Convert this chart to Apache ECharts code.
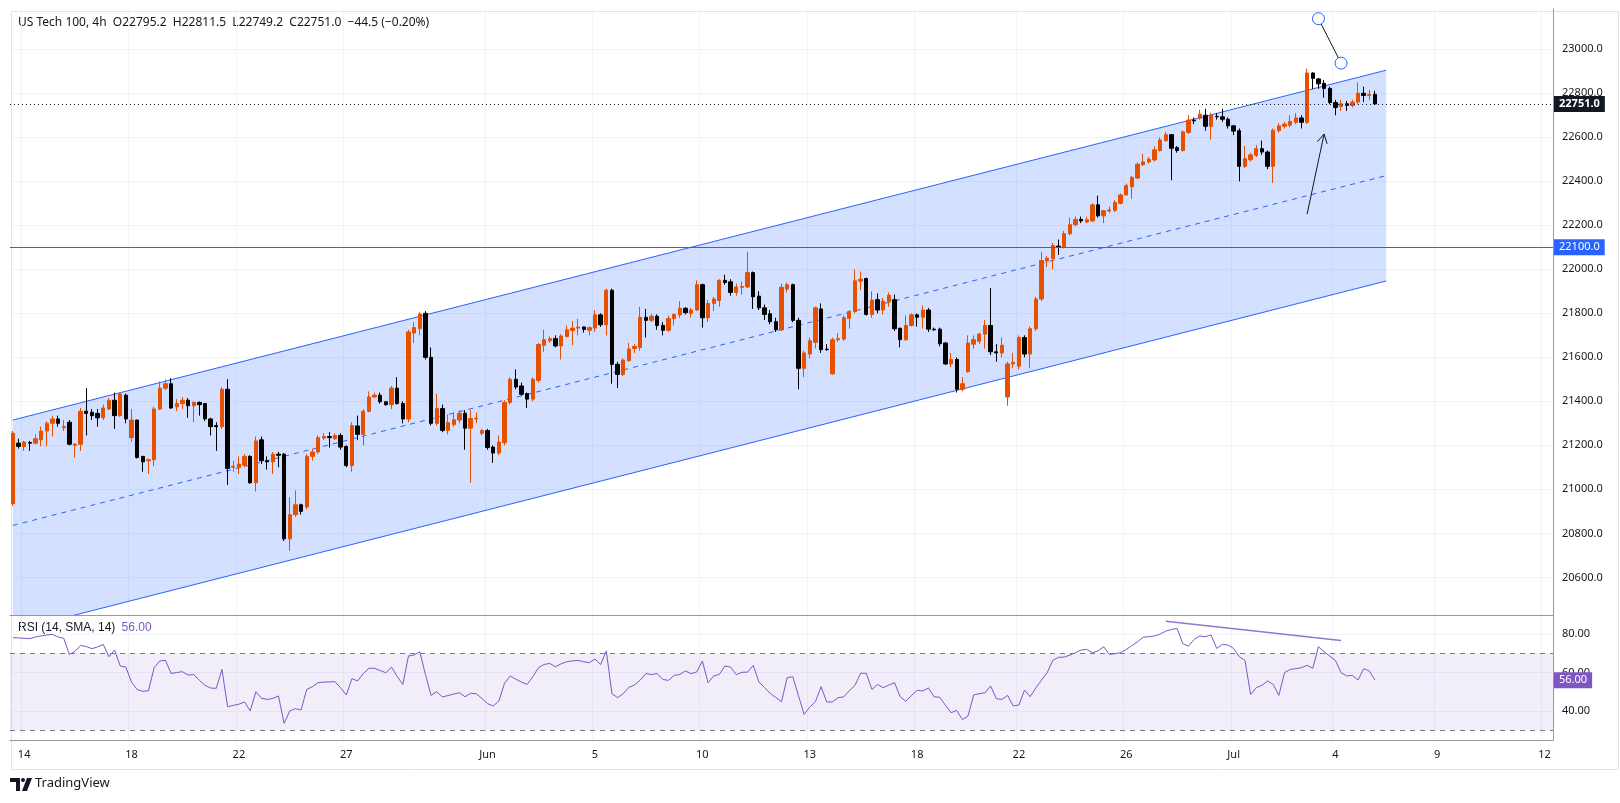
<!DOCTYPE html>
<html>
<head>
<meta charset="utf-8">
<script src="https://cdn.jsdelivr.net/npm/echarts@6/dist/echarts.min.js"></script>
<style>
html,body{margin:0;padding:0;background:#fff;}
#chart{width:1620px;height:803px;}
</style>
</head>
<body>
<div id="chart"></div>
<script>
// 4h candles: [open, close, low, high]
var candles = [
[20935,21255,20925,21265],[21210,21195,21185,21230],[21195,21215,21175,21220],[21213,21210,21175,21220],[21210,21230,21205,21250],
[21225,21265,21195,21285],[21265,21300,21195,21310],[21300,21320,21240,21335],[21320,21300,21285,21335],[21280,21285,21265,21315],
[21305,21205,21200,21315],[21200,21205,21145,21210],[21205,21355,21175,21370],[21355,21345,21245,21460],[21350,21335,21315,21365],
[21345,21325,21285,21365],[21325,21370,21315,21385],[21365,21405,21360,21415],[21405,21335,21275,21440],[21335,21433,21330,21440],
[21428,21320,21300,21435],[21235,21315,21215,21365],[21315,21145,21140,21315],[21150,21125,21080,21150],[21130,21135,21070,21140],
[21135,21365,21105,21375],[21365,21460,21360,21490],[21460,21480,21450,21500],[21480,21370,21365,21505],[21375,21390,21355,21410],
[21390,21405,21365,21420],[21405,21380,21325,21415],[21380,21395,21305,21400],[21395,21385,21335,21400],[21390,21320,21310,21390],
[21320,21285,21245,21325],[21290,21285,21175,21305],[21285,21455,21275,21465],[21455,21095,21020,21500],[21100,21105,21080,21130],
[21100,21115,21070,21150],[21110,21150,21100,21160],[21150,21030,21025,21155],[21030,21220,20990,21240],[21225,21130,21115,21240],
[21130,21125,21090,21150],[21125,21160,21070,21170],[21160,21155,21100,21170],[21160,20775,20765,21165],[20775,20885,20720,20965],
[20885,20930,20875,20995],[20930,20900,20885,20935],[20920,21150,20910,21160],[21150,21170,21130,21185],[21170,21235,21160,21245],
[21233,21240,21225,21255],[21240,21235,21190,21260],[21230,21245,21225,21255],
[21245,21192,21180,21255],[21195,21108,21100,21200],[21108,21290,21080,21305],[21288,21250,21225,21335],[21250,21355,21200,21365],
[21355,21420,21350,21445],[21420,21428,21415,21440],[21428,21398,21390,21440],[21398,21385,21380,21400],[21385,21460,21365,21470],
[21460,21390,21385,21510],[21390,21320,21300,21400],[21320,21715,21305,21725],[21710,21735,21665,21760],[21730,21797,21700,21805],
[21800,21600,21590,21810],[21600,21300,21290,21645],[21300,21367,21290,21435],[21367,21268,21260,21385],[21268,21303,21250,21340],
[21295,21316,21285,21350],[21315,21346,21300,21360],[21346,21278,21180,21360],[21278,21322,21030,21360],[21320,21324,21300,21350],
[21255,21267,21245,21275],[21267,21190,21180,21275],[21192,21165,21120,21200],[21165,21215,21155,21245],[21212,21395,21200,21405],
[21395,21500,21385,21510],[21500,21465,21455,21545],[21470,21432,21425,21485],[21435,21410,21370,21440],[21410,21500,21400,21510],
[21495,21658,21485,21665],[21655,21680,21625,21725],[21675,21685,21665,21695],[21685,21652,21645,21700],[21652,21697,21590,21705],
[21695,21725,21690,21745],[21722,21733,21655,21765],[21733,21738,21700,21775],[21738,21727,21712,21740],[21723,21735,21700,21740],
[21733,21793,21715,21815],[21793,21748,21738,21800],[21748,21905,21700,21912],[21905,21568,21480,21912],[21568,21522,21460,21580],
[21522,21588,21515,21595],[21585,21638,21580,21665],[21640,21650,21620,21660],[21645,21782,21630,21830],[21782,21768,21690,21820],
[21768,21787,21760,21797],[21787,21745,21725,21795],[21745,21723,21700,21760],
[21723,21776,21715,21790],[21776,21795,21745,21800],[21793,21823,21780,21855],[21823,21803,21795,21828],[21800,21815,21780,21825],
[21815,21930,21810,21950],[21930,21780,21735,21935],[21780,21845,21760,21860],[21845,21865,21810,21875],[21858,21950,21830,21955],
[21950,21940,21930,21975],[21943,21895,21880,21955],[21895,21920,21880,21935],[21918,21922,21885,21945],[21920,21985,21915,22080],
[21985,21875,21820,21990],[21878,21825,21815,21900],[21825,21795,21770,21840],[21798,21762,21750,21815],[21762,21725,21715,21780],
[21725,21918,21720,21935],[21910,21930,21895,21940],[21930,21768,21760,21935],[21768,21550,21455,21780],[21550,21620,21510,21630],
[21615,21675,21595,21690],[21668,21825,21640,21830],[21820,21635,21620,21845],[21637,21635,21630,21660],[21525,21680,21520,21690],
[21680,21685,21670,21710],[21683,21780,21675,21790],[21777,21808,21730,21815],[21808,21948,21800,22000],[21946,21955,21905,21990],
[21958,21795,21790,21962],[21795,21860,21780,21900],[21862,21815,21800,21890],[21815,21855,21795,21870],[21852,21882,21830,21895],
[21862,21730,21720,21885],[21732,21680,21645,21735],[21680,21745,21675,21790],[21745,21793,21740,21800],[21793,21782,21740,21800],
[21782,21815,21730,21835],[21815,21728,21715,21825],[21728,21725,21720,21735],[21728,21662,21650,21735],[21665,21570,21565,21670],
[21570,21590,21555,21620],[21590,21455,21440,21600],[21455,21480,21445,21510],[21535,21665,21530,21700],[21660,21680,21640,21700],
[21673,21706,21660,21712],[21705,21745,21640,21770],[21745,21625,21610,21915],[21625,21620,21580,21660],
[21620,21655,21600,21690],[21420,21570,21380,21580],[21570,21578,21550,21620],[21560,21690,21545,21700],[21690,21615,21600,21700],
[21615,21730,21550,21740],[21730,21865,21720,21875],[21865,22040,21855,22080],[22038,22050,22010,22060],[22048,22108,22000,22120],
[22105,22100,22065,22135],[22102,22162,22095,22175],[22162,22203,22155,22235],[22203,22227,22195,22240],[22227,22220,22210,22240],
[22215,22225,22210,22240],[22220,22293,22215,22300],[22293,22243,22235,22335],[22243,22266,22210,22270],[22265,22270,22255,22285],
[22268,22304,22260,22315],[22300,22338,22295,22345],[22338,22380,22335,22390],[22375,22418,22320,22425],[22415,22478,22410,22485],
[22475,22488,22470,22525],[22488,22500,22480,22510],[22497,22543,22490,22560],[22540,22588,22535,22600],[22585,22612,22580,22625],
[22612,22550,22405,22615],[22553,22540,22530,22560],[22540,22625,22535,22630],[22622,22678,22615,22700],[22678,22675,22660,22690],
[22687,22705,22680,22725],[22700,22650,22630,22730],[22650,22700,22590,22712],[22695,22693,22680,22710],[22693,22682,22670,22730],
[22682,22652,22640,22690],[22652,22628,22610,22655],[22630,22468,22400,22640],[22468,22503,22460,22560],[22498,22520,22490,22530],
[22518,22548,22510,22565],[22548,22533,22520,22585],[22533,22468,22455,22540],[22468,22632,22392,22640],[22630,22652,22620,22665],
[22650,22660,22640,22670],[22655,22672,22645,22700],[22668,22688,22660,22710],[22688,22668,22640,22700],[22668,22892,22660,22912],
[22892,22868,22820,22895],[22865,22843,22820,22870],[22845,22822,22780,22860],[22822,22758,22750,22830],[22758,22735,22700,22770],
[22740,22752,22720,22770],[22752,22745,22720,22765],[22745,22760,22735,22770],[22760,22800,22750,22850],[22800,22790,22760,22830],
[22790,22795,22770,22815],[22795.2,22751.0,22749.2,22811.5]
];

var rsi = [
78.1,78,77.8,77.6,78.5,79,79.5,79.8,78.5,77.8,
69.4,71,74.1,73.5,72.4,73.3,74.6,68.2,71.7,63.4,
62.8,55,51.2,50.2,50.5,62.5,66,66.3,59.5,60,
60.4,58.7,58.9,56,53.3,51.9,51.8,61.6,42.2,42.9,
43.5,44.7,40,50,46.6,46,46.5,47.8,33.5,40,
41.2,40.5,51.2,52.6,54.7,55,55.1,55.2,52,48.3,
56.8,55.6,59.4,62.2,62.2,61,59.9,62.8,58,53.8,
68.6,69.1,70.8,59,48.1,50,47.3,48,48.8,49.5,
47.4,49.2,49,46.5,43.8,42.6,45.2,54.4,58.2,56.5,
55,53.8,57.8,62.5,64.2,64.7,63,64.5,65.6,66,
66.3,65.6,65.1,67,64.2,71.2,49,46.9,49,52.3,
53.5,56,59.5,58.9,59.5,56.4,55.9,58.5,59,60.8,
59.4,60.3,66,54.7,58.2,59,63.4,62.8,58.9,60.1,
60.2,63.7,55.1,52.1,49.2,47,44.8,57.3,57.8,48,
38.2,42,44.8,52.6,44.7,44.7,46.9,47.3,50.5,53.3,
59.6,59.6,51.2,53.8,52.1,53.5,54.7,47.4,45,48.1,
50.7,50.4,52,47.4,47.1,43,39.1,40.3,35.5,37.4,
48.3,49,49.5,53,46.4,46,48.1,42.6,43.1,50.9,
47.4,52,56,59.9,66.3,67.9,68,69,70.3,71.7,
72,70.3,71.2,73.4,69.4,69.8,70.3,72,74,76,
78.4,78.6,79,80,81.5,82.4,82.9,75,73.7,77.2,
79,78.6,79.5,72.5,74.6,74.3,72.5,68.2,66.3,48.6,
52.1,53.3,55.6,53.8,48.1,59.9,61.6,62,62.5,63.7,
62.2,73.4,70.8,68.5,66.3,59.9,58.2,58.5,56.1,62,
60.8,56.0
];

var dateTicks = [[2,'14'],[21,'18'],[40,'22'],[59,'27'],[84,'Jun'],[103,'5'],[122,'10'],[141,'13'],
  [160,'18'],[178,'22'],[197,'26'],[216,'Jul'],[234,'4'],[252,'9'],[271,'12']];
var priceTicks = [20600,20800,21000,21200,21400,21600,21800,22000,22200,22400,22600,22800,23000];
var rsiTicks = [40,60,80];

// channel endpoints [start, end] in price, at bar index -0.5 and 242.5
var channelIdx = [-0.5, 242.5];
var channelUpper = [21315, 22905];
var channelLower = [20357, 21947];
var channelMid = [20836, 22426];
// drawings on the price pane
var circles = [[230.5, 23139], [235.4, 22937]];
var arrow = [[229.4, 22251], [231.7, 22615]];
var rsiDiv = [[204, 86.7], [235, 76.7]];

var lastPrice = 22751.0, levelLine = 22100.0, lastRsi = 56.00;

var nCat = 273;
var categories = [];
for (var i = 0; i < nCat; i++) categories.push('');
dateTicks.forEach(function (d) { categories[d[0]] = d[1]; });

var UP = '#e65100', DOWN = '#000000', BLUE = '#2962ff', PURPLE = '#7e57c2';
var showTick = function (idx, val) { return val !== ''; };
var gridLine = function (v) {
  return { yAxis: v, lineStyle: { color: '#f0f3fa', type: 'solid', width: 1 }, label: { show: false } };
};
var tag = function (v, txt, bg) {
  return { show: true, position: 'end', distance: 1, formatter: txt, color: '#fff',
    backgroundColor: bg, padding: [3, 5, 2, 5], fontSize: 11 };
};

var chart = echarts.init(document.getElementById('chart'));

var option = {
  animation: false,
  backgroundColor: '#ffffff',
  textStyle: { fontFamily: 'Noto Sans, Liberation Sans, sans-serif' },
  grid: [
    { left: 10, right: 67, top: 9, height: 606 },
    { left: 10, right: 67, top: 615, height: 125 }
  ],
  xAxis: [
    { type: 'category', gridIndex: 0, data: categories, boundaryGap: true,
      axisLine: { show: true, lineStyle: { color: '#9598a1' } }, axisTick: { show: false }, axisLabel: { show: false },
      splitLine: { show: true, interval: showTick, lineStyle: { color: '#f0f3fa' } } },
    { type: 'category', gridIndex: 1, data: categories, boundaryGap: true,
      axisLine: { show: true, lineStyle: { color: '#9598a1' } }, axisTick: { show: false },
      axisLabel: { interval: showTick, color: '#131722', fontSize: 11, margin: 9 },
      splitLine: { show: true, interval: showTick, lineStyle: { color: '#f0f3fa' } } }
  ],
  yAxis: [
    { type: 'value', gridIndex: 0, position: 'right', min: 20429, max: 23183, scale: true,
      axisLine: { show: true, lineStyle: { color: '#9598a1' } }, axisTick: { show: false },
      splitLine: { show: false },
      axisLabel: { customValues: priceTicks, color: '#131722', fontSize: 11, margin: 9,
        formatter: function (v) { return v.toFixed(1); } } },
    { type: 'value', gridIndex: 1, position: 'right', min: 24.9, max: 89.9,
      axisLine: { show: true, lineStyle: { color: '#9598a1' } }, axisTick: { show: false },
      splitLine: { show: false },
      axisLabel: { customValues: rsiTicks, color: '#131722', fontSize: 11, margin: 9,
        formatter: function (v) { return v.toFixed(2); } } }
  ],
  series: [
    {
      // horizontal grid lines behind everything
      type: 'line', xAxisIndex: 0, yAxisIndex: 0, data: [], z: 0, silent: true,
      markLine: { silent: true, symbol: 'none', animation: false, z: 0, data: priceTicks.map(gridLine) }
    },
    {
      type: 'line', xAxisIndex: 1, yAxisIndex: 1, data: [], z: 0, silent: true,
      markLine: { silent: true, symbol: 'none', animation: false, z: 0, data: rsiTicks.map(gridLine) }
    },
    {
      type: 'custom', xAxisIndex: 0, yAxisIndex: 0, z: 1, silent: true,
      data: [[0, 21000]],
      renderItem: function (params, api) {
        var cs = params.coordSys;
        var p = function (i, v) { return api.coord([i, v]); };
        var u0 = p(channelIdx[0], channelUpper[0]), u1 = p(channelIdx[1], channelUpper[1]);
        var l0 = p(channelIdx[0], channelLower[0]), l1 = p(channelIdx[1], channelLower[1]);
        var m0 = p(channelIdx[0], channelMid[0]), m1 = p(channelIdx[1], channelMid[1]);
        return {
          type: 'group',
          clipPath: { type: 'rect', shape: { x: cs.x, y: cs.y, width: cs.width, height: cs.height } },
          children: [
            { type: 'polygon', shape: { points: [u0, u1, l1, l0] }, style: { fill: 'rgba(41,98,255,0.2)' } },
            { type: 'line', shape: { x1: u0[0], y1: u0[1], x2: u1[0], y2: u1[1] }, style: { stroke: BLUE, lineWidth: 1 } },
            { type: 'line', shape: { x1: l0[0], y1: l0[1], x2: l1[0], y2: l1[1] }, style: { stroke: BLUE, lineWidth: 1 } },
            { type: 'line', shape: { x1: m0[0], y1: m0[1], x2: m1[0], y2: m1[1] }, style: { stroke: BLUE, lineWidth: 1, lineDash: [5, 5] } }
          ]
        };
      }
    },
    {
      type: 'candlestick', xAxisIndex: 0, yAxisIndex: 0, z: 3, barWidth: '68%',
      data: candles,
      itemStyle: { color: UP, color0: DOWN, borderColor: UP, borderColor0: DOWN, borderWidth: 1 },
      markLine: {
        silent: true, symbol: 'none', animation: false,
        data: [
          { yAxis: levelLine, lineStyle: { color: BLUE, type: 'solid', width: 1 }, label: tag(levelLine, levelLine.toFixed(1), BLUE) },
          { yAxis: lastPrice, lineStyle: { color: '#131722', type: [1, 3], width: 1 },
            label: Object.assign(tag(lastPrice, lastPrice.toFixed(1), '#131722'), { fontWeight: 'bold' }) }
        ]
      }
    },
    {
      type: 'custom', xAxisIndex: 0, yAxisIndex: 0, z: 5, silent: true,
      data: [[0, 21000]],
      renderItem: function (params, api) {
        var c0 = api.coord(circles[0]), c1 = api.coord(circles[1]);
        var a0 = api.coord(arrow[0]), a1 = api.coord(arrow[1]);
        var dx = a1[0] - a0[0], dy = a1[1] - a0[1], len = Math.sqrt(dx * dx + dy * dy);
        var ux = dx / len, uy = dy / len, h = 9, w = 5;
        var hl = [a1[0] - ux * h - uy * w, a1[1] - uy * h + ux * w];
        var hr = [a1[0] - ux * h + uy * w, a1[1] - uy * h - ux * w];
        return {
          type: 'group', children: [
            { type: 'line', shape: { x1: c0[0], y1: c0[1], x2: c1[0], y2: c1[1] }, style: { stroke: '#131722', lineWidth: 1 } },
            { type: 'circle', shape: { cx: c0[0], cy: c0[1], r: 6 }, style: { fill: '#fff', stroke: BLUE, lineWidth: 1 } },
            { type: 'circle', shape: { cx: c1[0], cy: c1[1], r: 6 }, style: { fill: '#fff', stroke: BLUE, lineWidth: 1 } },
            { type: 'line', shape: { x1: a0[0], y1: a0[1], x2: a1[0], y2: a1[1] }, style: { stroke: '#131722', lineWidth: 1 } },
            { type: 'polyline', shape: { points: [hl, a1, hr] }, style: { stroke: '#131722', lineWidth: 1, fill: null } }
          ]
        };
      }
    },
    {
      type: 'line', xAxisIndex: 1, yAxisIndex: 1, data: rsi, showSymbol: false, z: 4,
      lineStyle: { color: PURPLE, width: 1 },
      markArea: { silent: true, itemStyle: { color: 'rgba(126,87,194,0.1)' }, data: [[{ yAxis: 30 }, { yAxis: 70 }]] },
      markLine: {
        silent: true, symbol: 'none', animation: false,
        data: [
          { yAxis: 70, lineStyle: { color: '#787b86', type: [5, 5], width: 1 }, label: { show: false } },
          { yAxis: 30, lineStyle: { color: '#787b86', type: [5, 5], width: 1 }, label: { show: false } },
          { yAxis: lastRsi, lineStyle: { color: 'rgba(0,0,0,0)', width: 1 }, label: tag(lastRsi, lastRsi.toFixed(2), PURPLE) },
          [{ coord: rsiDiv[0], lineStyle: { color: '#9575cd', type: 'solid', width: 1.5 }, label: { show: false } },
           { coord: rsiDiv[1] }]
        ]
      }
    }
  ],
  graphic: [
    { type: 'rect', left: 9, top: 9, shape: { width: 1607, height: 758 }, silent: true,
      style: { fill: 'none', stroke: '#e0e3eb', lineWidth: 1 }, z: -1 },
    { type: 'text', left: 18, top: 17, style: { text: 'US Tech 100, 4h  O22795.2  H22811.5  L22749.2  C22751.0  \u221244.5 (\u22120.20%)',
      fill: '#131722', fontSize: 12, fontFamily: 'Noto Sans, sans-serif' } },
    { type: 'text', left: 18, top: 622, style: { rich: { a: { fill: '#131722', fontSize: 12 }, b: { fill: PURPLE, fontSize: 12 } },
      text: '{a|RSI (14, SMA, 14)}  {b|56.00}', fontFamily: 'Noto Sans, sans-serif' } },
    { type: 'polygon', shape: { points: [[10,778],[20,778],[20,791],[16,791],[16,782],[10,782]] }, style: { fill: '#131722' } },
    { type: 'circle', shape: { cx: 23, cy: 780, r: 2 }, style: { fill: '#131722' } },
    { type: 'polygon', shape: { points: [[27,778],[32,778],[27,791],[22,791]] }, style: { fill: '#131722' } },
    { type: 'text', left: 35, top: 777, style: { text: 'TradingView', fill: '#131722', fontSize: 13, fontFamily: 'Noto Sans, sans-serif' } }
  ]
};
chart.setOption(option);
</script>
</body>
</html>
